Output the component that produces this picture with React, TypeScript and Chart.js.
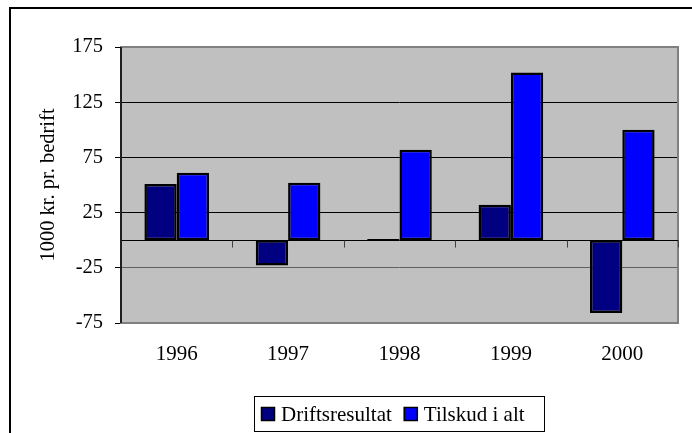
import React, { useEffect, useRef } from "react";
import { Chart, registerables } from "chart.js";

Chart.register(...registerables);

const categories = ["1996", "1997", "1998", "1999", "2000"];
const driftsresultat = [51, -23, 1, 32, -66];
const tilskud = [61, 52, 82, 152, 100];
const yTicks = [-75, -25, 25, 75, 125, 175];
const seriesNames = ["Driftsresultat", "Tilskud i alt"];
const yTitle = "1000 kr. pr. bedrift";

const FONT = "'Liberation Serif', 'Times New Roman', serif";

const decorPlugin = {
  id: "decor",
  beforeDraw(chart: any) {
    const { ctx, chartArea: a, width, height } = chart;
    ctx.save();
    ctx.fillStyle = "#ffffff";
    ctx.fillRect(0, 0, width, height);
    ctx.strokeStyle = "#000000";
    ctx.lineWidth = 2;
    ctx.strokeRect(10, 8, width + 20, height + 20);
    ctx.fillStyle = "#C0C0C0";
    ctx.fillRect(a.left, a.top, a.right - a.left, a.bottom - a.top);
    ctx.restore();
  },
  beforeDatasetsDraw(chart: any) {
    const { ctx, chartArea: a, scales } = chart;
    ctx.save();
    ctx.strokeStyle = "#808080";
    ctx.lineWidth = 2;
    ctx.strokeRect(a.left, a.top, a.right - a.left, a.bottom - a.top);
    const y0 = Math.round(scales.y.getPixelForValue(0)) + 0.5;
    ctx.strokeStyle = "#000000";
    ctx.lineWidth = 1;
    ctx.beginPath();
    ctx.moveTo(a.left, y0);
    ctx.lineTo(a.right, y0);
    ctx.stroke();
    const n = categories.length;
    const w = (a.right - a.left) / n;
    ctx.strokeStyle = "#404040";
    ctx.beginPath();
    for (let k = 0; k <= n; k++) {
      const x = Math.round(a.left + k * w) + 0.5;
      ctx.moveTo(x, y0);
      ctx.lineTo(x, y0 + 7);
    }
    ctx.stroke();
    ctx.strokeStyle = "#202020";
    ctx.lineWidth = 2;
    ctx.beginPath();
    ctx.moveTo(a.left, a.top);
    ctx.lineTo(a.left, a.bottom);
    ctx.stroke();
    ctx.restore();
  },
  afterDraw(chart: any) {
    const { ctx } = chart;
    const ds = chart.data.datasets;
    ctx.save();
    const bx = 254, by = 396, bw = 290, bh = 35;
    ctx.fillStyle = "#ffffff";
    ctx.fillRect(bx, by, bw, bh);
    ctx.strokeStyle = "#000000";
    ctx.lineWidth = 1;
    ctx.strokeRect(bx + 0.5, by + 0.5, bw, bh);
    ctx.font = "21px " + FONT;
    ctx.textBaseline = "alphabetic";
    let x = 261;
    ds.forEach((d: any) => {
      ctx.fillStyle = d.backgroundColor;
      ctx.fillRect(x, 407, 14, 14);
      ctx.strokeStyle = "#000";
      ctx.lineWidth = 1.5;
      ctx.strokeRect(x + 0.5, 407.5, 13, 13);
      ctx.fillStyle = "#000";
      ctx.fillText(d.label, x + 20, 421);
      x += 20 + ctx.measureText(d.label).width + 12;
    });
    ctx.restore();
  },
};

export default function App() {
  const ref = useRef<HTMLCanvasElement>(null);
  useEffect(() => {
    if (!ref.current) return;
    const chart = new Chart(ref.current, {
      type: "bar",
      data: {
        labels: categories,
        datasets: [
          {
            label: seriesNames[0],
            data: driftsresultat,
            backgroundColor: "#000080",
            borderColor: "#000000",
            borderWidth: 2.5,
            borderSkipped: false,
            categoryPercentage: 0.58,
            barPercentage: 1,
          },
          {
            label: seriesNames[1],
            data: tilskud,
            backgroundColor: "#0000FF",
            borderColor: "#000000",
            borderWidth: 2.5,
            borderSkipped: false,
            categoryPercentage: 0.58,
            barPercentage: 1,
          },
        ],
      },
      options: {
        animation: false,
        responsive: false,
        devicePixelRatio: 1,
        layout: { padding: { left: 0, right: 14, top: 47, bottom: 0 } },
        plugins: { legend: { display: false }, tooltip: { enabled: false } },
        scales: {
          x: {
            grid: { display: false, drawTicks: false },
            border: { display: false },
            ticks: { color: "#000", font: { family: FONT, size: 21 }, padding: 19 },
            afterFit: (s: any) => {
              s.height = 110;
            },
          },
          y: {
            min: -75,
            max: 175,
            afterBuildTicks: (s: any) => {
              s.ticks = yTicks.map((v) => ({ value: v }));
            },
            grid: {
              color: (c: any) =>
                c.tick && (c.tick.value === 175 || c.tick.value === -75)
                  ? "#808080"
                  : c.tick && c.tick.value === -25
                  ? "#606060"
                  : "#000000",
              tickColor: "#000000",
              tickLength: 6,
              lineWidth: 1,
            },
            border: { display: false },
            ticks: { color: "#000", font: { family: FONT, size: 20.5 }, padding: 12 },
            title: {
              display: true,
              text: yTitle,
              color: "#000",
              font: { family: FONT, size: 20.5 },
              padding: { top: 36, bottom: 0 },
            },
            afterFit: (s: any) => {
              s.width = 121;
            },
          },
        },
      },
      plugins: [decorPlugin],
    });
    return () => chart.destroy();
  }, []);
  return (
    <div style={{ position: "absolute", left: 0, top: 0, width: 692, height: 433 }}>
      <canvas ref={ref} width={692} height={433} style={{ display: "block" }} />
    </div>
  );
}
